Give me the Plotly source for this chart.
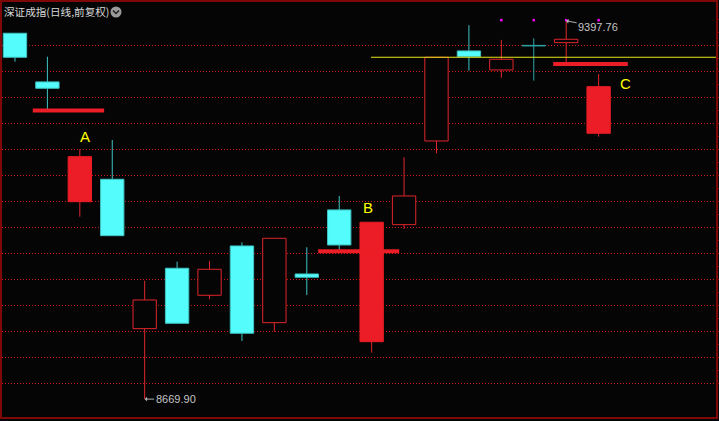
import plotly.graph_objects as go

# 日K线数据（从截图读取）
OPEN = [9373.9, 9280.2, 9049.8, 9092.9, 8805.5, 8921.7, 8869.7, 8964.6, 8817.0, 8910.7,
        9033.9, 8780.4, 9005.6, 9166.6, 9339.8, 9303.2, 9350.5, 9355.8, 9181.4]
HIGH = [9373.9, 9328.8, 9150.7, 9168.5, 8897.8, 8934.4, 8935.7, 8971.7, 8979.4, 8962.1,
        9060.8, 9010.2, 9135.3, 9327.7, 9389.3, 9361.0, 9364.2, 9397.76, 9295.5]
LOW = [9319.2, 9226.5, 9020.9, 8984.4, 8669.90, 8815.8, 8862.0, 8781.8, 8799.7, 8870.3,
       8956.9, 8759.3, 8997.3, 9142.9, 9301.9, 9288.4, 9282.7, 9318.1, 9174.9]
CLOSE = [9327.7, 9268.0, 9136.4, 8984.4, 8860.7, 8815.8, 8919.7, 8796.6, 8979.4, 8904.4,
         8966.5, 9010.2, 9060.8, 9327.7, 9328.8, 9323.8, 9349.5, 9362.3, 9271.1]
KIND = ["down", "down", "mark", "down", "up", "down", "up", "down", "up", "down",
        "down", "mark", "up", "up", "down", "up", "doji", "up", "mark"]

# 标记线（红色粗线）与黄色水平线
MARK_LEVEL = [9225.3, 8954.4, 9314.8]
MARK_X0 = [0.55, 9.35, 16.6]
MARK_X1 = [2.75, 11.85, 18.9]
YELLOW_LEVEL = 9327.7
YELLOW_X0 = 10.98

# A/B/C 文字标记
TAG_TEXT = ["A", "B", "C"]
TAG_X = [2.16, 10.89, 18.83]
TAG_Y = [9172.0, 9035.0, 9274.0]

# 顶部品红小点
DOT_X = [15, 16, 17, 18]
DOT_Y = [9399.0, 9399.0, 9399.0, 9399.0]

GRID_LEVELS = [8700, 8750, 8800, 8850, 8900, 8950, 9000, 9050, 9100, 9150, 9200, 9250, 9300, 9350]
TICK_LEVELS = [8700, 8725, 8750, 8775, 8800, 8825, 8850, 8875, 8900, 8925, 8950, 8975, 9000,
               9025, 9050, 9075, 9100, 9125, 9150, 9175, 9200, 9225, 9250, 9275, 9300, 9325,
               9350, 9375, 9400]

TITLE = "深证成指(日线,前复权)"

BG = "#050505"
AXIS = "#7E0808"
GRID = "#D01414"
RED = "#EC1D26"
RED_LINE = "#E0262C"
CYAN = "#55FCFC"
CYAN_EDGE = "#3EC4C4"
TEAL = "#2EA6A6"

W, H = 719, 421
ML, MR, MT, MB = 2, 3, 2, 4
Y_RANGE = [8635.5, 9434.0]
X_RANGE = [-0.40, 21.62]

x = list(range(len(OPEN)))

fill = {"up": BG, "down": CYAN, "mark": RED, "doji": TEAL}
edge = {"up": RED_LINE, "down": CYAN_EDGE, "mark": RED, "doji": TEAL}
wick = {"up": RED_LINE, "down": CYAN_EDGE, "mark": RED_LINE, "doji": TEAL}

fig = go.Figure()

# 影线：分上下两段，避免穿过空心实体
segs = {}
for i in x:
    top = max(OPEN[i], CLOSE[i])
    bot = min(OPEN[i], CLOSE[i])
    c = wick[KIND[i]]
    sx, sy = segs.setdefault(c, ([], []))
    if HIGH[i] > top:
        sx += [i, i, None]
        sy += [top, HIGH[i], None]
    if LOW[i] < bot:
        sx += [i, i, None]
        sy += [bot, LOW[i], None]
for c, (sx, sy) in segs.items():
    fig.add_trace(go.Scatter(x=sx, y=sy, mode="lines", line=dict(color=c, width=1),
                             hoverinfo="skip"))

# 实体
fig.add_trace(go.Bar(
    x=x, base=[min(o, c) for o, c in zip(OPEN, CLOSE)],
    y=[abs(c - o) for o, c in zip(OPEN, CLOSE)], width=0.72,
    marker=dict(color=[fill[k] for k in KIND],
                line=dict(color=[edge[k] for k in KIND], width=1)),
    hoverinfo="skip",
))

# 红色标记线
for lv, a, b in zip(MARK_LEVEL, MARK_X0, MARK_X1):
    fig.add_trace(go.Scatter(x=[a, b], y=[lv, lv], mode="lines",
                             line=dict(color=RED, width=4), hoverinfo="skip"))

# 黄色水平线
fig.add_trace(go.Scatter(x=[YELLOW_X0, X_RANGE[1]], y=[YELLOW_LEVEL, YELLOW_LEVEL], mode="lines",
                         line=dict(color="#E8E81A", width=1), hoverinfo="skip"))

fig.add_trace(go.Scatter(x=DOT_X, y=DOT_Y, mode="markers",
                         marker=dict(symbol="square", size=2.5, color="#FF00FF", line=dict(width=0)),
                         hoverinfo="skip"))

fig.add_trace(go.Scatter(x=TAG_X, y=TAG_Y, mode="text", text=TAG_TEXT,
                         textfont=dict(color="#FFFF00", size=15, family="Liberation Sans"),
                         hoverinfo="skip"))

# 最高/最低价标注
hi = max(x, key=lambda i: HIGH[i])
lo = min(x, key=lambda i: LOW[i])
fig.add_annotation(x=hi, y=HIGH[hi], text=f"{HIGH[hi]:.2f}", showarrow=True,
                   ax=32, ay=6, arrowhead=1, arrowsize=0.8, arrowwidth=1, arrowcolor="#B0B0B0",
                   standoff=0, font=dict(color="#C4C4C4", size=11, family="Liberation Sans"))
fig.add_annotation(x=lo, y=LOW[lo], text=f"{LOW[lo]:.2f}", showarrow=True,
                   ax=31, ay=0, arrowhead=1, arrowsize=0.8, arrowwidth=1, arrowcolor="#B0B0B0",
                   standoff=0, font=dict(color="#C4C4C4", size=11, family="Liberation Sans"))

pw, ph = W - ML - MR, H - MT - MB


def paper(px, py):
    return (px - ML) / pw, (H - MB - py) / ph


tx, ty = paper(2, 12)
fig.add_annotation(xref="paper", yref="paper", x=tx, y=ty, xanchor="left", yanchor="middle",
                   text=TITLE, showarrow=False,
                   font=dict(color="#D8D8D8", size=10.6, family="Noto Sans CJK SC"))
cx0, cy0 = paper(110.5, 17.5)
cx1, cy1 = paper(121.5, 6.5)
fig.add_shape(type="circle", xref="paper", yref="paper", x0=cx0, y0=cy0, x1=cx1, y1=cy1,
              fillcolor="#9A9A9A", line=dict(width=0))
p1, p2, p3 = paper(113, 10.5), paper(116, 13.5), paper(119, 10.5)
fig.add_shape(type="path", xref="paper", yref="paper",
              path=f"M{p1[0]},{p1[1]} L{p2[0]},{p2[1]} L{p3[0]},{p3[1]}",
              line=dict(color="#202020", width=1.5))

fig.update_layout(
    width=W, height=H, margin=dict(l=ML, r=MR, t=MT, b=MB, autoexpand=False),
    paper_bgcolor=BG, plot_bgcolor=BG, showlegend=False, barmode="overlay",
    xaxis=dict(range=X_RANGE, showgrid=False, zeroline=False, showticklabels=False,
               showline=True, mirror=True, linecolor=AXIS, linewidth=2, ticks=""),
    yaxis=dict(range=Y_RANGE, tickvals=GRID_LEVELS, showticklabels=False, zeroline=False,
               showgrid=True, gridcolor=GRID, gridwidth=1, griddash="1px,2px",
               showline=True, mirror=True, linecolor=AXIS, linewidth=2, ticks=""),
    yaxis2=dict(range=Y_RANGE, overlaying="y", side="right", tickvals=TICK_LEVELS,
                showticklabels=False, showgrid=False, zeroline=False,
                ticks="outside", ticklen=3, tickcolor=AXIS, tickwidth=1),
)
# 右侧刻度需要一个挂在 yaxis2 上的空轨迹
fig.add_trace(go.Scatter(x=[None], y=[None], yaxis="y2", hoverinfo="skip"))

# 去掉页面默认的 8px 边距，让图正好贴满窗口
fig.write_html("out.html", config={"displayModeBar": False},
               post_script="document.body.style.margin='0';document.body.style.background='#050505';")
